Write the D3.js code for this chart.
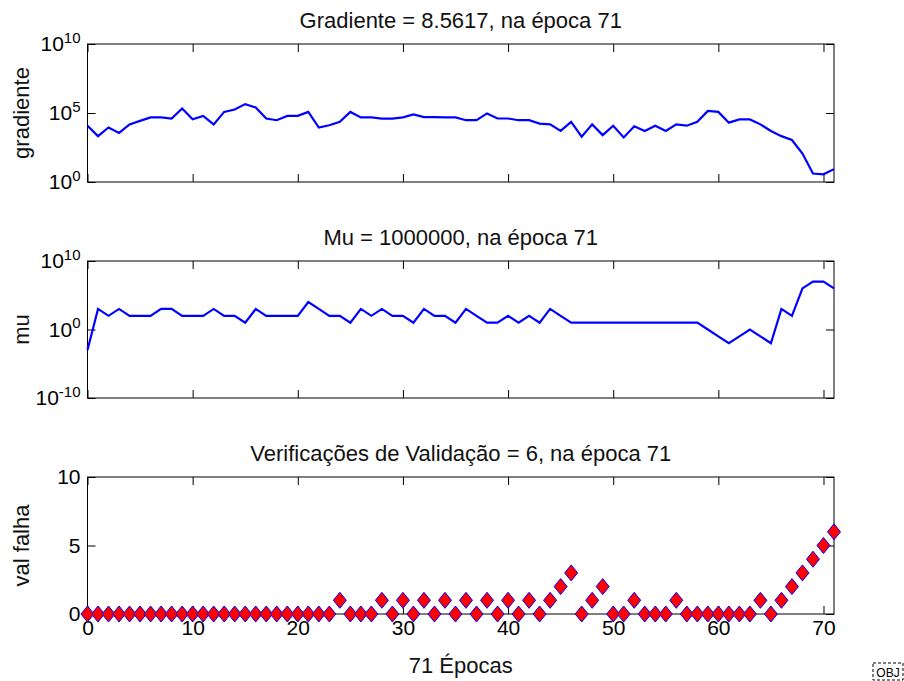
<!DOCTYPE html>
<html>
<head>
<meta charset="utf-8">
<script src="https://cdn.jsdelivr.net/npm/d3@7"></script>
<style>
  body { margin: 0; background: #fff; }
  svg { display: block; font-family: "Liberation Sans", Arial, sans-serif; }
  .tick text { fill: #000; }
</style>
</head>
<body>
<div id="chart-area"></div>
<script>
// Training state data, one value per epoch 0..71
let epochs = d3.range(0, 72);

let gradient = [
    1.2e4, 2.1e3, 8.9e3, 3.6e3, 1.5e4, 2.7e4, 4.8e4, 4.8e4, 4.0e4, 2.1e5,
    3.5e4, 6.2e4, 1.5e4, 1.2e5, 1.8e5, 4.4e5, 2.5e5, 4.0e4, 3.0e4, 6.2e4,
    6.2e4, 1.2e5, 8.9e3, 1.3e4, 2.3e4, 1.2e5, 4.8e4, 4.8e4, 3.9e4, 3.9e4,
    4.8e4, 7.8e4, 5.0e4, 5.0e4, 4.8e4, 4.8e4, 3.0e4, 3.0e4, 9.3e4, 4.0e4,
    4.0e4, 3.0e4, 3.0e4, 1.7e4, 1.5e4, 5.0e3, 2.3e4, 1.9e3, 1.5e4, 2.5e3,
    1.2e4, 1.7e3, 1.1e4, 5.0e3, 1.2e4, 5.0e3, 1.5e4, 1.2e4, 2.3e4, 1.4e5,
    1.2e5, 2.0e4, 3.4e4, 3.4e4, 1.5e4, 5.0e3, 2.1e3, 1.1e3, 115, 4.1,
    3.6, 8.5617
];

let mu = [
    1e-3, 1e3, 1e2, 1e3, 1e2, 1e2, 1e2, 1e3, 1e3, 1e2,
    1e2, 1e2, 1e3, 1e2, 1e2, 1e1, 1e3, 1e2, 1e2, 1e2,
    1e2, 1e4, 1e3, 1e2, 1e2, 1e1, 1e3, 1e2, 1e3, 1e2,
    1e2, 1e1, 1e3, 1e2, 1e2, 1e1, 1e3, 1e2, 1e1, 1e1,
    1e2, 1e1, 1e2, 1e1, 1e3, 1e2, 1e1, 1e1, 1e1, 1e1,
    1e1, 1e1, 1e1, 1e1, 1e1, 1e1, 1e1, 1e1, 1e1, 1e0,
    1e-1, 1e-2, 1e-1, 1e0, 1e-1, 1e-2, 1e3, 1e2, 1e6, 1e7,
    1e7, 1e6
];

let valFail = [
    0, 0, 0, 0, 0, 0, 0, 0, 0, 0,
    0, 0, 0, 0, 0, 0, 0, 0, 0, 0,
    0, 0, 0, 0, 1, 0, 0, 0, 1, 0,
    1, 0, 1, 0, 1, 0, 1, 0, 1, 0,
    1, 0, 1, 0, 1, 2, 3, 0, 1, 2,
    0, 0, 1, 0, 0, 0, 1, 0, 0, 0,
    0, 0, 0, 0, 1, 0, 1, 2, 3, 4,
    5, 6
];

let xTicks = [0, 10, 20, 30, 40, 50, 60, 70];

let titles = [
    "Gradiente = 8.5617, na época 71",
    "Mu = 1000000, na época 71",
    "Verificações de Validação = 6, na época 71"
];
let yLabels = ["gradiente", "mu", "val falha"];
let xLabel = "71 Épocas";

// SVG drawing area
let width = 904, height = 681;
let left = 87.5, right = 834;
let fontSize = 21;
let labelSize = 22;

let svg = d3.select("#chart-area").append("svg")
    .attr("width", width)
    .attr("height", height);

let x = d3.scaleLinear()
    .domain([0, 71])
    .range([left, right]);

// panel boxes (top, bottom in px)
let panels = [
    {top: 44, bottom: 182},
    {top: 261, bottom: 398},
    {top: 477, bottom: 614}
];

let yScales = [
    d3.scaleLog().domain([1, 1e10]).range([panels[0].bottom, panels[0].top]),
    d3.scaleLog().domain([1e-10, 1e10]).range([panels[1].bottom, panels[1].top]),
    d3.scaleLinear().domain([0, 10]).range([panels[2].bottom, panels[2].top])
];

let yTicks = [[1, 1e5, 1e10], [1e-10, 1, 1e10], [0, 5, 10]];

function powerLabel(sel) {
    sel.selectAll(".tick text").each(function (d) {
        let t = d3.select(this);
        let exp = Math.round(Math.log10(d));
        t.text("");
        t.append("tspan").text("10");
        t.append("tspan")
            .attr("dy", "-0.55em")
            .attr("font-size", "15px")
            .text(exp);
    });
}

panels.forEach(function (p, i) {
    let y = yScales[i];
    let g = svg.append("g").attr("class", "panel-" + i);

    // title
    g.append("text")
        .attr("x", (left + right) / 2)
        .attr("y", p.top - 16)
        .attr("text-anchor", "middle")
        .attr("font-size", labelSize)
        .attr("fill", "#111")
        .text(titles[i]);

    // y label
    g.append("text")
        .attr("transform", "translate(29," + ((p.top + p.bottom) / 2) + ") rotate(-90)")
        .attr("text-anchor", "middle")
        .attr("font-size", labelSize)
        .attr("fill", "#111")
        .text(yLabels[i]);

    // axes with inward ticks
    let yLeft = d3.axisLeft(y)
        .tickValues(yTicks[i])
        .tickSizeInner(-8)
        .tickSizeOuter(0)
        .tickPadding(7);
    let yRight = d3.axisRight(y)
        .tickValues(yTicks[i])
        .tickSizeInner(-8)
        .tickSizeOuter(0)
        .tickFormat("");
    let xTop = d3.axisTop(x)
        .tickValues(xTicks)
        .tickSizeInner(-8)
        .tickSizeOuter(0)
        .tickFormat("");
    let xBottom = d3.axisBottom(x)
        .tickValues(xTicks)
        .tickSizeInner(-8)
        .tickSizeOuter(0)
        .tickPadding(6);
    if (i < 2) xBottom.tickFormat("");

    let gl = g.append("g")
        .attr("transform", "translate(" + left + ",0)")
        .call(yLeft);
    g.append("g")
        .attr("transform", "translate(" + right + ",0)")
        .call(yRight);
    g.append("g")
        .attr("transform", "translate(0," + p.top + ")")
        .call(xTop);
    g.append("g")
        .attr("transform", "translate(0," + p.bottom + ")")
        .call(xBottom);

    if (i < 2) gl.call(powerLabel);

    g.selectAll(".domain").remove();
    g.selectAll(".tick line").attr("stroke", "#000");
    g.selectAll(".tick text").attr("font-size", fontSize).attr("font-family", null);

    g.append("rect")
        .attr("x", left)
        .attr("y", p.top)
        .attr("width", right - left)
        .attr("height", p.bottom - p.top)
        .attr("fill", "none")
        .attr("stroke", "#000")
        .attr("stroke-width", 1);
});

// Line graphs
let lineGrad = d3.line()
    .x(function (d, i) { return x(epochs[i]); })
    .y(function (d) { return yScales[0](d); });

let lineMu = d3.line()
    .x(function (d, i) { return x(epochs[i]); })
    .y(function (d) { return yScales[1](d); });

svg.append("path")
    .attr("d", lineGrad(gradient))
    .attr("fill", "none")
    .attr("stroke", "#0000ff")
    .attr("stroke-width", 2.2);

svg.append("path")
    .attr("d", lineMu(mu))
    .attr("fill", "none")
    .attr("stroke", "#0000ff")
    .attr("stroke-width", 2.2);

// Validation failures: diamond markers
svg.append("g").selectAll(".marker")
    .data(valFail)
    .enter().append("path")
    .attr("class", "marker")
    .attr("transform", function (d, i) {
        return "translate(" + x(epochs[i]) + "," + yScales[2](d) + ")";
    })
    .attr("d", "M0,-8L6.5,0L0,8L-6.5,0Z")
    .attr("fill", "#ff0000")
    .attr("stroke", "#0000ff")
    .attr("stroke-width", 1);

// x label
svg.append("text")
    .attr("x", (left + right) / 2)
    .attr("y", 673)
    .attr("text-anchor", "middle")
    .attr("font-size", labelSize)
    .attr("fill", "#111")
    .text(xLabel);

// OBJ placeholder box at bottom right
svg.append("rect")
    .attr("x", 873)
    .attr("y", 663)
    .attr("width", 30)
    .attr("height", 17)
    .attr("fill", "none")
    .attr("stroke", "#000")
    .attr("stroke-dasharray", "3,2");
svg.append("text")
    .attr("x", 888)
    .attr("y", 677)
    .attr("text-anchor", "middle")
    .attr("font-size", 12)
    .text("OBJ");
</script>
</body>
</html>
